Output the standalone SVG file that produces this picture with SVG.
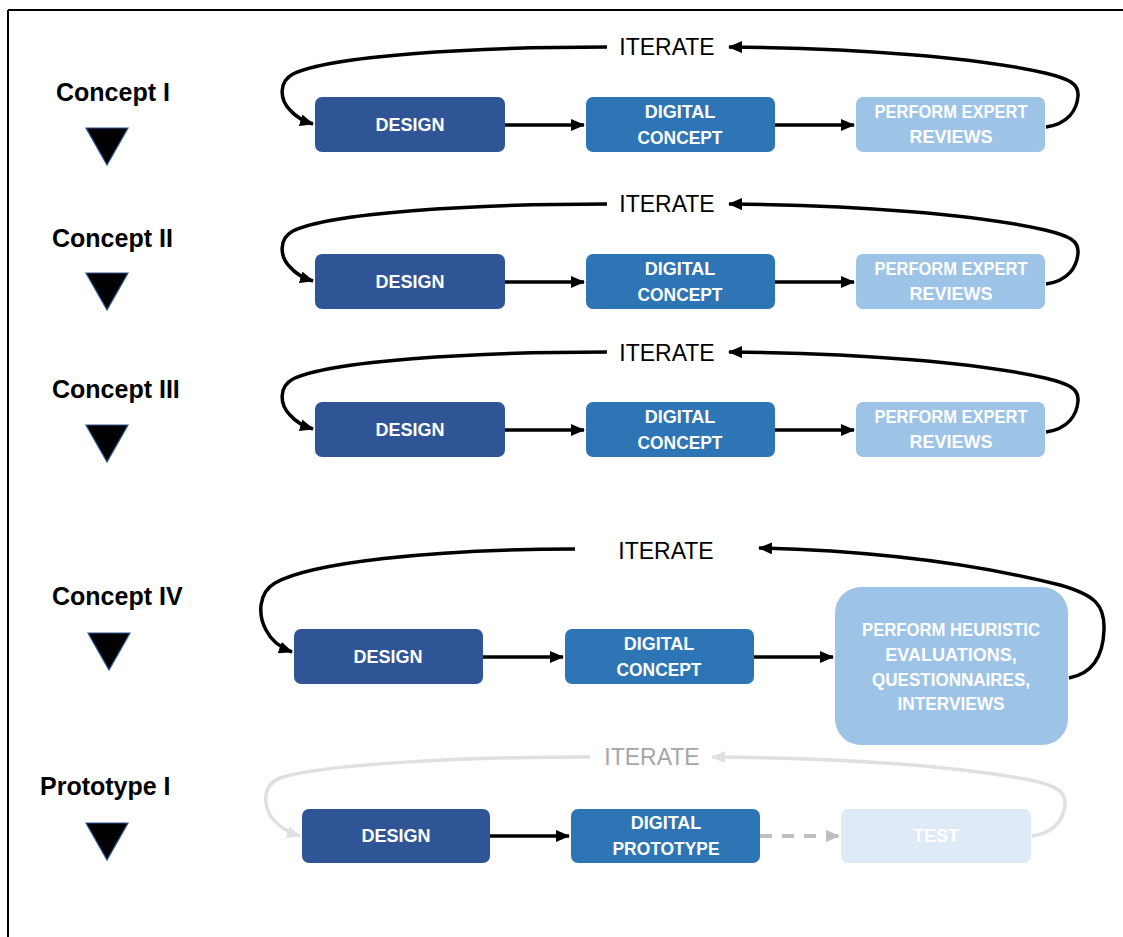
<svg xmlns="http://www.w3.org/2000/svg" width="1123" height="937" viewBox="0 0 1123 937">
<style>
.lbl{font-family:"Liberation Sans",Arial,sans-serif;font-weight:bold;font-size:25px;fill:#000}
.bt{font-family:"Liberation Sans",Arial,sans-serif;font-weight:bold;font-size:18px;fill:#fff;text-anchor:middle}
.it{font-family:"Liberation Sans",Arial,sans-serif;font-size:23px;fill:#000;text-anchor:middle}
.d1{fill:#2F5597}
.d2{fill:#2E75B6}
.d3{fill:#9DC3E6}
.d4{fill:#DEEBF7}
.tri{fill:#000;stroke:#2F5597;stroke-width:1.2}
.ln{fill:none;stroke:#000;stroke-width:3.5}
.lnG{fill:none;stroke:#E0E0E0;stroke-width:3.5}
</style>
<defs>
<marker id="ah" markerUnits="userSpaceOnUse" markerWidth="14" markerHeight="12" refX="13" refY="6" orient="auto"><path d="M0,0 L14,6 L0,12 Z" fill="#000"/></marker>
<marker id="ahG" markerUnits="userSpaceOnUse" markerWidth="14" markerHeight="12" refX="13" refY="6" orient="auto"><path d="M0,0 L14,6 L0,12 Z" fill="#E0E0E0"/></marker>
<marker id="ahD" markerUnits="userSpaceOnUse" markerWidth="14" markerHeight="12" refX="13" refY="6" orient="auto"><path d="M0,0 L14,6 L0,12 Z" fill="#BFBFBF"/></marker>
</defs>
<rect width="1123" height="937" fill="#fff"/>
<path d="M8,10 H1123 M8,10 V937" stroke="#000" stroke-width="2" fill="none"/>

<!-- Stage labels -->
<g id="label-concept1"><text class="lbl" x="56" y="101">Concept I</text><polygon class="tri" points="86,128 128,128 107,165"/></g>
<g id="label-concept2"><text class="lbl" x="52" y="247">Concept II</text><polygon class="tri" points="86,273 128,273 107,310"/></g>
<g id="label-concept3"><text class="lbl" x="52" y="398">Concept III</text><polygon class="tri" points="86,425 128,425 107,462"/></g>
<g id="label-concept4"><text class="lbl" x="52" y="605">Concept IV</text><polygon class="tri" points="88,633 130,633 109,670"/></g>
<g id="label-prototype1"><text class="lbl" x="40" y="795">Prototype I</text><polygon class="tri" points="86,823 128,823 107,860"/></g>

<!-- Row 1 nodes -->
<g id="r1-design"><rect class="d1" x="315" y="97" width="190" height="55" rx="7"/><text class="bt" x="410" y="131">DESIGN</text></g>
<g id="r1-digital"><rect class="d2" x="586" y="97" width="189" height="55" rx="7"/><text class="bt" x="680" y="118">DIGITAL</text><text class="bt" x="680" y="144" textLength="85" lengthAdjust="spacingAndGlyphs">CONCEPT</text></g>
<g id="r1-review"><rect class="d3" x="856" y="97" width="189" height="55" rx="7"/><text class="bt" x="951" y="118" textLength="153" lengthAdjust="spacingAndGlyphs">PERFORM EXPERT</text><text class="bt" x="951" y="143">REVIEWS</text></g>
<g id="r1-iterate"><text class="it" x="667" y="55">ITERATE</text></g>

<!-- Row 2 nodes -->
<g id="r2-design"><rect class="d1" x="315" y="254" width="190" height="55" rx="7"/><text class="bt" x="410" y="288">DESIGN</text></g>
<g id="r2-digital"><rect class="d2" x="586" y="254" width="189" height="55" rx="7"/><text class="bt" x="680" y="275">DIGITAL</text><text class="bt" x="680" y="301" textLength="85" lengthAdjust="spacingAndGlyphs">CONCEPT</text></g>
<g id="r2-review"><rect class="d3" x="856" y="254" width="189" height="55" rx="7"/><text class="bt" x="951" y="275" textLength="153" lengthAdjust="spacingAndGlyphs">PERFORM EXPERT</text><text class="bt" x="951" y="300">REVIEWS</text></g>
<g id="r2-iterate"><text class="it" x="667" y="212">ITERATE</text></g>

<!-- Row 3 nodes -->
<g id="r3-design"><rect class="d1" x="315" y="402" width="190" height="55" rx="7"/><text class="bt" x="410" y="436">DESIGN</text></g>
<g id="r3-digital"><rect class="d2" x="586" y="402" width="189" height="55" rx="7"/><text class="bt" x="680" y="423">DIGITAL</text><text class="bt" x="680" y="449" textLength="85" lengthAdjust="spacingAndGlyphs">CONCEPT</text></g>
<g id="r3-review"><rect class="d3" x="856" y="402" width="189" height="55" rx="7"/><text class="bt" x="951" y="423" textLength="153" lengthAdjust="spacingAndGlyphs">PERFORM EXPERT</text><text class="bt" x="951" y="448">REVIEWS</text></g>
<g id="r3-iterate"><text class="it" x="667" y="361">ITERATE</text></g>

<!-- Row 4 nodes -->
<g id="r4-design"><rect class="d1" x="294" y="629" width="189" height="55" rx="7"/><text class="bt" x="388" y="663">DESIGN</text></g>
<g id="r4-digital"><rect class="d2" x="565" y="629" width="189" height="55" rx="7"/><text class="bt" x="659" y="650">DIGITAL</text><text class="bt" x="659" y="676" textLength="85" lengthAdjust="spacingAndGlyphs">CONCEPT</text></g>
<g id="r4-heuristic"><rect class="d3" x="835" y="587" width="233" height="158" rx="26"/><text class="bt" x="951" y="636" textLength="178" lengthAdjust="spacingAndGlyphs">PERFORM HEURISTIC</text><text class="bt" x="951" y="661">EVALUATIONS,</text><text class="bt" x="951" y="686" textLength="158" lengthAdjust="spacingAndGlyphs">QUESTIONNAIRES,</text><text class="bt" x="951" y="710" textLength="107" lengthAdjust="spacingAndGlyphs">INTERVIEWS</text></g>
<g id="r4-iterate"><text class="it" x="666" y="559">ITERATE</text></g>

<!-- Row 5 nodes -->
<g id="r5-design"><rect class="d1" x="302" y="809" width="188" height="54" rx="7"/><text class="bt" x="396" y="842">DESIGN</text></g>
<g id="r5-digital"><rect class="d2" x="571" y="809" width="189" height="54" rx="7"/><text class="bt" x="666" y="829">DIGITAL</text><text class="bt" x="666" y="855" textLength="107" lengthAdjust="spacingAndGlyphs">PROTOTYPE</text></g>
<g id="r5-test"><rect class="d4" x="841" y="809" width="190" height="54" rx="7"/><text class="bt" x="936" y="842">TEST</text></g>
<g id="r5-iterate"><text class="it" x="652" y="765" style="fill:#A6A6A6">ITERATE</text></g>

<!-- Connectors -->
<g id="connectors">
  <g id="loops-123">
    <path class="ln" d="M607,47 C470,47 330,56 293,74 C278,82 280,100 290,110 C296,117 303,121 313,124" marker-end="url(#ah)"/>
    <path class="ln" d="M1046,127 C1068,124 1077,110 1078,96 C1079,84 1070,79 1045,73 C980,58 860,48 729,47" marker-end="url(#ah)"/>
    <path class="ln" d="M505,125 H584" marker-end="url(#ah)"/>
    <path class="ln" d="M775,125 H854" marker-end="url(#ah)"/>

    <path class="ln" d="M607,204 C470,204 330,213 293,231 C278,239 280,257 290,267 C296,274 303,278 313,281" marker-end="url(#ah)"/>
    <path class="ln" d="M1046,284 C1068,281 1077,267 1078,253 C1079,241 1070,236 1045,230 C980,215 860,205 729,204" marker-end="url(#ah)"/>
    <path class="ln" d="M505,282 H584" marker-end="url(#ah)"/>
    <path class="ln" d="M775,282 H854" marker-end="url(#ah)"/>

    <path class="ln" d="M607,352 C470,352 330,361 293,379 C278,387 280,405 290,415 C296,422 303,426 313,429" marker-end="url(#ah)"/>
    <path class="ln" d="M1046,432 C1068,429 1077,415 1078,401 C1079,389 1070,384 1045,378 C980,363 860,353 729,352" marker-end="url(#ah)"/>
    <path class="ln" d="M505,430 H584" marker-end="url(#ah)"/>
    <path class="ln" d="M775,430 H854" marker-end="url(#ah)"/>
  </g>
  <g id="loops-4">
    <path class="ln" d="M575,549 C430,549 310,563 275,583 C258,593 258,615 266,630 C272,642 281,648 292,652" marker-end="url(#ah)"/>
    <path class="ln" d="M1069,678 C1090,674 1103,660 1104,630 C1105,605 1095,595 1060,585 C980,565 880,551 759,548" marker-end="url(#ah)"/>
    <path class="ln" d="M483,657 H563" marker-end="url(#ah)"/>
    <path class="ln" d="M754,657 H833" marker-end="url(#ah)"/>
  </g>
  <g id="loops-5">
    <path class="lnG" d="M590,757 C450,757 320,765 280,778 C262,785 263,805 272,818 C280,828 290,833 300,836" marker-end="url(#ahG)"/>
    <path class="lnG" d="M1032,836 C1052,833 1063,822 1065,805 C1066,792 1058,786 1030,780 C950,765 830,758 712,757" marker-end="url(#ahG)"/>
    <path class="ln" d="M490,836 H569" marker-end="url(#ah)"/>
    <path d="M760,836 H839" fill="none" stroke="#BFBFBF" stroke-width="4" stroke-dasharray="12,10" marker-end="url(#ahD)"/>
  </g>
</g>
</svg>
